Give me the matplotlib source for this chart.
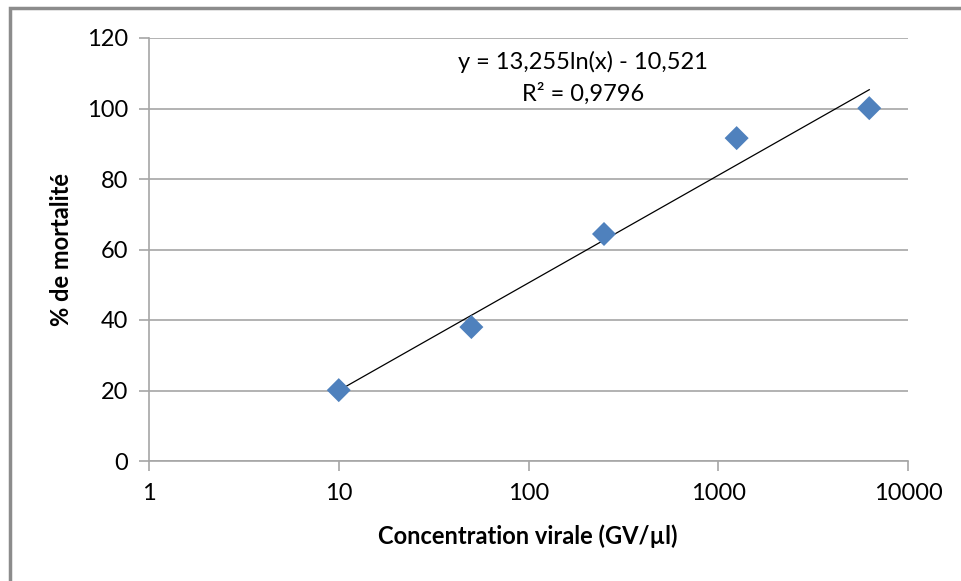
import numpy as np
import matplotlib.pyplot as plt
from matplotlib.patches import Rectangle

# Données
concentration = [10, 50, 250, 1250, 6250]
mortalite = [20.1, 38.0, 64.4, 91.6, 100.1]

# Coefficients de la courbe de tendance (affichés sur le graphique)
coef_a = 13.255
coef_b = -10.521
r2_text = "R² = 0,9796"
eq_text = "y = 13,255ln(x) - 10,521"

y_ticks = [0, 20, 40, 60, 80, 100, 120]
x_ticks = [1, 10, 100, 1000, 10000]
x_tick_labels = ["1", "10", "100", "1000", "10000"]

plt.rcParams['font.family'] = ['Lato', 'DejaVu Sans']

fig = plt.figure(figsize=(9.62, 5.81), dpi=100)
ax = fig.add_axes([149 / 962, 1 - 461 / 581, (908 - 149) / 962, (461 - 38) / 581])

# cadre extérieur (coupé à droite et en bas)
fig.patches.append(Rectangle((10 / 962, -0.1), 1.2, 1 - 8 / 581 + 0.1,
                             transform=fig.transFigure, fill=False,
                             edgecolor="#8c8c8c", linewidth=2.5))

# courbe de tendance logarithmique
xt = [min(concentration), max(concentration)]
xs = np.logspace(np.log10(xt[0]), np.log10(xt[1]), 50)
ax.plot(xs, coef_a * np.log(xs) + coef_b, color="black", linewidth=0.9, zorder=3)

ax.scatter(concentration, mortalite, marker="D", s=150, color="#4F81BD",
           edgecolor="none", zorder=4)

ax.set_xscale("log")
ax.set_xlim(1, 10000)
ax.set_ylim(0, 120)
ax.set_xticks(x_ticks)
ax.set_xticklabels(x_tick_labels)
ax.xaxis.set_minor_locator(plt.NullLocator())
ax.set_yticks(y_ticks)

ax.grid(axis="y", color="#a6a6a6", linewidth=1.2)
ax.set_axisbelow(True)
for s in ["top", "right"]:
    ax.spines[s].set_visible(False)
for s in ["left", "bottom"]:
    ax.spines[s].set_color("#a6a6a6")
    ax.spines[s].set_linewidth(1.2)

ax.tick_params(axis="both", colors="#a6a6a6", labelcolor="black", labelsize=17,
               length=7, width=1.2)
ax.tick_params(axis="y", pad=8)
ax.tick_params(axis="x", pad=9)

# titres des axes
fig.text(528 / 962, 1 - 536 / 581, "Concentration virale (GV/µl)", ha="center",
         va="center", fontsize=17, fontweight="bold")
fig.text(62 / 962, 1 - 250 / 581, "% de mortalité", ha="center", va="center",
         rotation=90, fontsize=17, fontweight="bold")

# équation de la tendance
fig.text(583 / 962, 1 - 62 / 581, eq_text, ha="center", va="center", fontsize=17)
fig.text(583 / 962, 1 - 94 / 581, r2_text, ha="center", va="center", fontsize=17)

fig.savefig("out.png", dpi=100)
